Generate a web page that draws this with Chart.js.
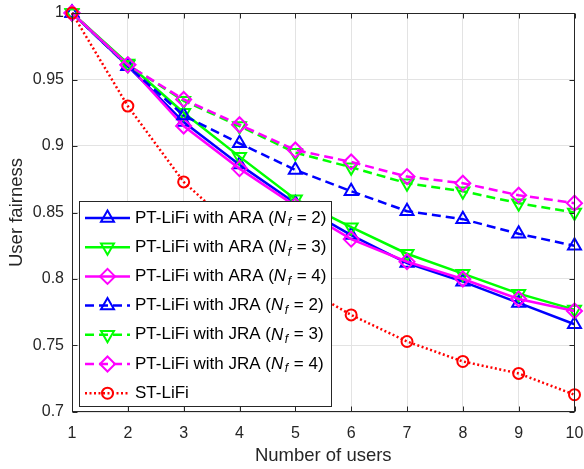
<!DOCTYPE html>
<html>
<head>
<meta charset="utf-8">
<script src="https://cdn.jsdelivr.net/npm/chart.js@4.4.1/dist/chart.umd.min.js"></script>
<style>
html,body{margin:0;padding:0;background:#fff;}
#wrap{width:584px;height:469px;}
</style>
</head>
<body>
<div id="wrap"><canvas id="grafico" width="584" height="469"></canvas></div>
<script>

// ==============================
// DATOS
// ==============================

const usuarios = [1, 2, 3, 4, 5, 6, 7, 8, 9, 10];

const araNf2 = [1, 0.960, 0.918, 0.886, 0.857, 0.833, 0.812, 0.798, 0.782, 0.766];
const araNf3 = [1, 0.962, 0.925, 0.892, 0.860, 0.839, 0.819, 0.804, 0.789, 0.777];
const araNf4 = [1, 0.961, 0.915, 0.883, 0.855, 0.830, 0.813, 0.800, 0.785, 0.776];

const jraNf2 = [1, 0.960, 0.923, 0.902, 0.882, 0.866, 0.851, 0.845, 0.834, 0.825];
const jraNf3 = [1, 0.961, 0.934, 0.915, 0.895, 0.884, 0.872, 0.866, 0.857, 0.850];
const jraNf4 = [1, 0.961, 0.935, 0.916, 0.897, 0.888, 0.877, 0.872, 0.863, 0.857];

const stLiFi = [1, 0.930, 0.873, 0.835, 0.797, 0.773, 0.753, 0.738, 0.729, 0.713];

const esquemas = ["PT-LiFi with ARA", "PT-LiFi with ARA", "PT-LiFi with ARA",
                  "PT-LiFi with JRA", "PT-LiFi with JRA", "PT-LiFi with JRA", "ST-LiFi"];
const valoresNf = [2, 3, 4, 2, 3, 4, null];

const ticksY = [0.7, 0.75, 0.8, 0.85, 0.9, 0.95, 1];

const FUENTE = "'Liberation Sans', Arial, Helvetica, sans-serif";

// ==============================
// SERIES
// ==============================

function serie(datos, color, dash, estilo, radio, rot, orden){
return {
data: datos,
borderColor: color,
borderWidth: 2.5,
borderDash: dash,
pointStyle: estilo,
pointRadius: radio,
pointRotation: rot,
pointBorderColor: color,
pointBackgroundColor: "rgba(0,0,0,0)",
pointBorderWidth: 2,
fill: false,
tension: 0,
clip: false,
order: orden
};
}

const series = [
serie(araNf2, "#0000ff", [], "triangle", 7.5, 0, 6),
serie(araNf3, "#00ff00", [], "triangle", 7.5, 180, 5),
serie(araNf4, "#ff00ff", [], "rectRot", 7.5, 0, 4),
serie(jraNf2, "#0000ff", [9,5], "triangle", 7.5, 0, 3),
serie(jraNf3, "#00ff00", [9,5], "triangle", 7.5, 180, 2),
serie(jraNf4, "#ff00ff", [9,5], "rectRot", 7.5, 0, 1),
serie(stLiFi, "#ff0000", [2,2.5], "circle", 5.5, 0, 0)
];

// ==============================
// MARCADORES LEYENDA
// ==============================

function dibujarMarcador(ctx, estilo, rot, x, y, r){
ctx.beginPath();
if(estilo === "circle"){
ctx.arc(x, y, r, 0, Math.PI*2);
} else if(estilo === "triangle"){
let a = rot*Math.PI/180;
for(let k=0;k<3;k++){
const px = x + Math.sin(a)*r, py = y - Math.cos(a)*r;
if(k===0) ctx.moveTo(px,py); else ctx.lineTo(px,py);
a += 2*Math.PI/3;
}
ctx.closePath();
} else {
ctx.moveTo(x-r,y); ctx.lineTo(x,y-r); ctx.lineTo(x+r,y); ctx.lineTo(x,y+r);
ctx.closePath();
}
ctx.stroke();
}

// ==============================
// PLUGIN MARCO + LEYENDA
// ==============================

const marcoPlugin = {
id: "marco",
afterDraw(chart){
const ctx = chart.ctx;
const a = chart.chartArea;
const sx = chart.scales.x, sy = chart.scales.y;

ctx.save();
ctx.setLineDash([]);
ctx.strokeStyle = "#262626";
ctx.lineWidth = 1;

// caja de ejes
const L = Math.round(a.left)+0.5, R = Math.round(a.right)-0.5;
const T = Math.round(a.top)+0.5, B = Math.round(a.bottom)-0.5;
ctx.strokeRect(L, T, R-L, B-T);

// ticks hacia adentro
ctx.beginPath();
sx.ticks.forEach((t,i)=>{
const px = Math.round(sx.getPixelForTick(i))+0.5;
ctx.moveTo(px,B); ctx.lineTo(px,B-5);
ctx.moveTo(px,T); ctx.lineTo(px,T+5);
});
sy.ticks.forEach((t,i)=>{
const py = Math.round(sy.getPixelForTick(i))+0.5;
ctx.moveTo(L,py); ctx.lineTo(L+5,py);
ctx.moveTo(R,py); ctx.lineTo(R-5,py);
});
ctx.stroke();

// leyenda
const lx = 79, ly = 201, lw = 253, lh = 206;
ctx.fillStyle = "#ffffff";
ctx.fillRect(lx, ly, lw, lh);
ctx.strokeStyle = "#262626";
ctx.strokeRect(lx+0.5, ly+0.5, lw-1, lh-1);

chart.data.datasets.forEach((ds,i)=>{
const y = 218 + i*29.2;

ctx.strokeStyle = ds.borderColor;
ctx.lineWidth = ds.borderWidth;
ctx.setLineDash(ds.borderDash);
ctx.beginPath();
ctx.moveTo(85,y); ctx.lineTo(130,y);
ctx.stroke();

ctx.setLineDash([]);
ctx.lineWidth = ds.pointBorderWidth;
dibujarMarcador(ctx, ds.pointStyle, ds.pointRotation, 107.5, y, ds.pointRadius);

ctx.fillStyle = "#000";
ctx.textBaseline = "middle";
ctx.textAlign = "left";
let tx = 135;
const normal = "17px " + FUENTE, italica = "italic 17px " + FUENTE;
if(valoresNf[i] === null){
ctx.font = normal;
ctx.fillText(esquemas[i], tx, y);
} else {
const partes = [
[esquemas[i] + " (", normal, 0, 0],
["N", italica, 0, 1.5],
["f", "italic 12px " + FUENTE, 5, 1],
[" = " + valoresNf[i] + ")", normal, 0, 0]
];
partes.forEach(p=>{
ctx.font = p[1];
ctx.fillText(p[0], tx, y + p[2]);
tx += ctx.measureText(p[0]).width + p[3];
});
}
});

ctx.restore();
}
};

// ==============================
// GRAFICO
// ==============================

const ctxGrafico = document.getElementById("grafico").getContext("2d");

let grafico = new Chart(ctxGrafico, {

type: "line",

data: {
labels: usuarios,
datasets: series
},

options: {
responsive: false,
animation: false,
devicePixelRatio: 1,
layout: { padding: { top: 13, right: 6, left: 0, bottom: 0 } },
plugins: {
legend: { display: false },
tooltip: { enabled: false }
},
scales: {
x: {
type: "category",
offset: false,
grid: { color: "#e3e3e3", lineWidth: 1, drawTicks: false },
border: { display: false },
ticks: {
color: "#262626",
font: { family: FUENTE, size: 16 },
padding: 12,
maxRotation: 0,
autoSkip: false
},
title: {
display: true,
text: "Number of users",
color: "#262626",
font: { family: FUENTE, size: 18.5 },
padding: { top: 0, bottom: 2 }
},
afterFit(s){ s.height = 57; s.paddingLeft = 0; s.paddingRight = 0; }
},
y: {
min: 0.7,
max: 1,
grid: { color: "#e3e3e3", lineWidth: 1, drawTicks: false },
border: { display: false },
afterBuildTicks(s){ s.ticks = ticksY.map(v => ({ value: v })); },
ticks: {
color: "#262626",
font: { family: FUENTE, size: 16 },
padding: 8,
callback: v => parseFloat(Number(v).toFixed(2)).toString()
},
title: {
display: true,
text: "User fairness",
color: "#262626",
font: { family: FUENTE, size: 18.5 },
padding: { top: 6, bottom: 0 }
},
afterFit(s){ s.width = 72; s.paddingTop = 0; s.paddingBottom = 0; }
}
}
},

plugins: [marcoPlugin]

});

</script>
</body>
</html>
